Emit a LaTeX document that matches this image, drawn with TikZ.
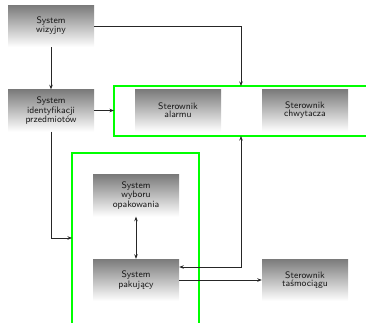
\documentclass[tikz,border=0pt]{standalone}
\usetikzlibrary{arrows.meta}
\begin{document}
\begin{tikzpicture}[x=1pt,y=-1pt,
  box/.style={minimum width=86pt,minimum height=42pt,inner sep=0pt,
    top color=black!52,bottom color=white,draw=none,align=center,
    font=\sffamily\fontsize{9.4}{8}\selectfont,text=black!90},
  arr/.style={draw=black!85,line width=0.7pt,-{Stealth[length=4.5pt,width=3.5pt]}},
  arrb/.style={draw=black!85,line width=0.7pt,{Stealth[length=4.5pt,width=3.5pt]}-{Stealth[length=4.5pt,width=3.5pt]}},
  frame/.style={draw={rgb,255:red,0;green,255;blue,0},line width=1.1pt}]
\useasboundingbox (0,0) rectangle (366,322);
\begin{scope}
\clip (0,0) rectangle (366,322);
\draw[frame] (114,86) rectangle (380,136);
\draw[frame] (72,153) rectangle (199,340);
\end{scope}
\node[box] (wiz) at (51,26) {System\\wizyjny};
\node[box] (id) at (51,110.5) {System\\identyfikacji\\przedmiotów};
\node[box] (alarm) at (178,110.5) {Sterownik\\alarmu};
\node[box] (chw) at (305,110.5) {Sterownik\\chwytacza};
\node[box] (wyb) at (136,195.5) {System\\wyboru\\opakowania};
\node[box] (pak) at (136,280) {System\\pakujący};
\node[box] (tas) at (305,280) {Sterownik\\taśmociągu};
\coordinate (g1top) at (241,86);
\coordinate (g1left) at (114,110.5);
\coordinate (g1bot) at (241,136);
\coordinate (g2left) at (72,238);
\draw[arr] (wiz.east) -| (g1top);
\draw[arr] (wiz.south) -- (id.north);
\draw[arr] (id.east) -- (g1left);
\draw[arr] (id.south) |- (g2left);
\draw[arrb] (wyb.south) -- (pak.north);
\draw[arr] (pak.east) -- (tas.west);
\draw[arrb] ([yshift=13pt]pak.east) -| (g1bot);
\end{tikzpicture}
\end{document}
